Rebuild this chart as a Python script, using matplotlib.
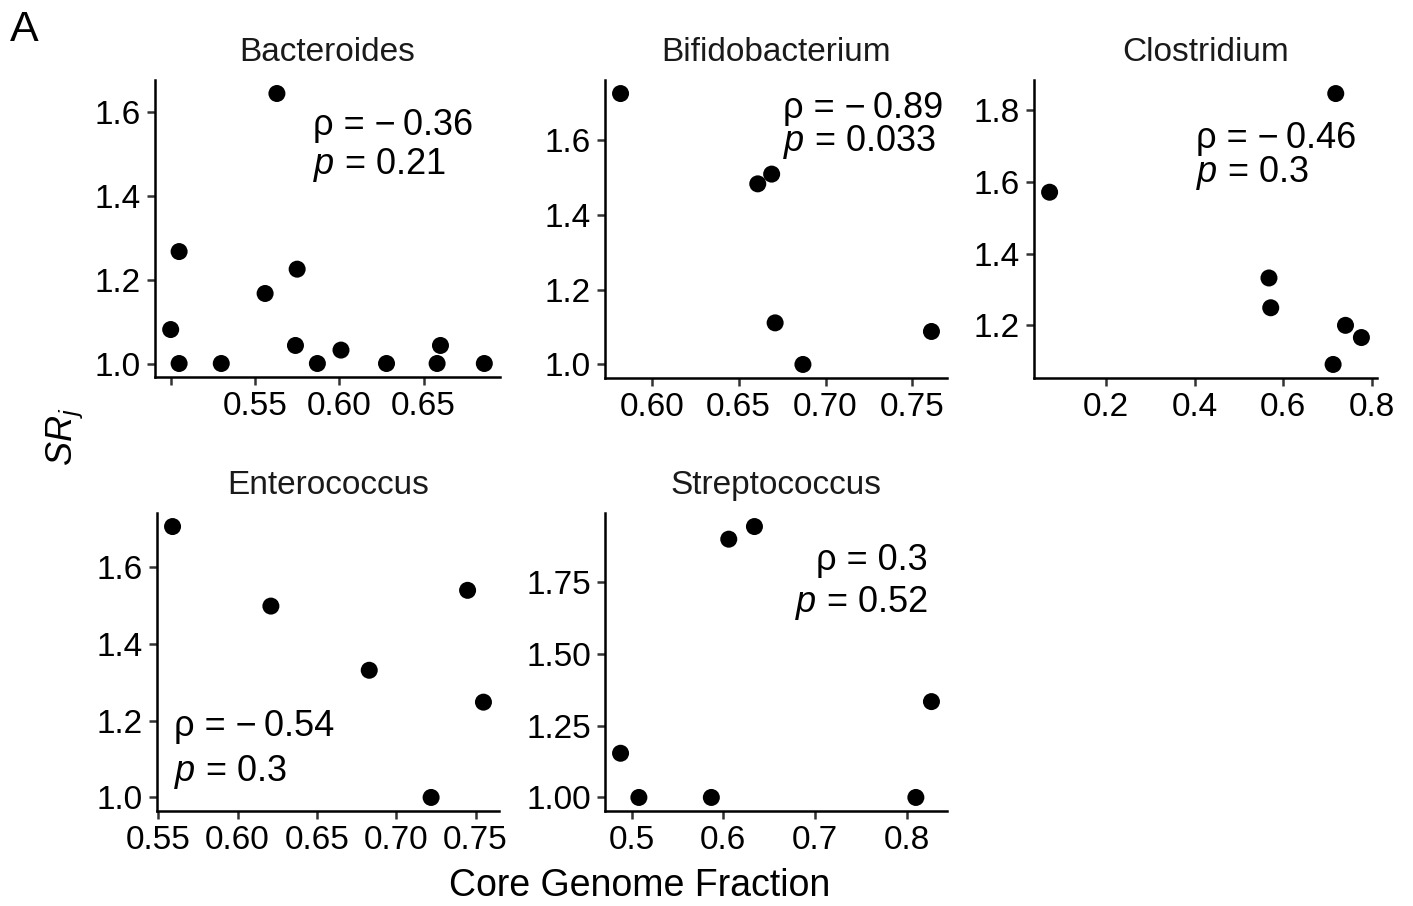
import matplotlib

matplotlib.use("Agg")
import matplotlib.pyplot as plt
import numpy as np

plt.rcParams["font.family"] = ["Liberation Sans", "DejaVu Sans"]
plt.rcParams["mathtext.fontset"] = "custom"
plt.rcParams["mathtext.rm"] = "Liberation Sans"
plt.rcParams["mathtext.it"] = "Liberation Sans:italic"

# Data
bacteroides_x = [0.500, 0.505, 0.505, 0.530, 0.556, 0.563, 0.575, 0.574, 0.587, 0.601, 0.628, 0.658, 0.660, 0.686]
bacteroides_y = [1.081, 1.267, 1.000, 1.000, 1.167, 1.644, 1.225, 1.043, 1.000, 1.032, 1.000, 1.000, 1.043, 1.000]

bifido_x = [0.582, 0.661, 0.669, 0.671, 0.687, 0.761]
bifido_y = [1.723, 1.482, 1.508, 1.111, 1.000, 1.088]

clostridium_x = [0.072, 0.568, 0.572, 0.719, 0.741, 0.777, 0.713]
clostridium_y = [1.571, 1.332, 1.249, 1.846, 1.200, 1.166, 1.091]

enterococcus_x = [0.559, 0.621, 0.683, 0.745, 0.755, 0.722]
enterococcus_y = [1.705, 1.498, 1.331, 1.539, 1.248, 1.000]

strepto_x = [0.488, 0.508, 0.587, 0.606, 0.634, 0.810, 0.827]
strepto_y = [1.154, 1.000, 1.000, 1.900, 1.944, 1.000, 1.334]

rho_labels = ["\u2212\u20090.36", "\u2212\u20090.89", "\u2212\u20090.46", "\u2212\u20090.54", "0.3"]
p_labels = ["0.21", "0.033", "0.3", "0.3", "0.52"]

W, H = 1413, 906

panels = [
    # title, x, y, rect px (left, top, right, bottom), xticks, xticklabels, yticks, yticklabels, annot (xfrac, y1, y2, ha)
    ("Bacteroides", bacteroides_x, bacteroides_y, (155, 80, 500, 377),
     [0.50, 0.55, 0.60, 0.65], ["", "0.55", "0.60", "0.65"],
     [1.0, 1.2, 1.4, 1.6], ["1.0", "1.2", "1.4", "1.6"], (0.458, 0.848, 0.714, "left")),
    ("Bifidobacterium", bifido_x, bifido_y, (605, 80, 947, 378),
     [0.60, 0.65, 0.70, 0.75], ["0.60", "0.65", "0.70", "0.75"],
     [1.0, 1.2, 1.4, 1.6], ["1.0", "1.2", "1.4", "1.6"], (0.520, 0.906, 0.792, "left")),
    ("Clostridium", clostridium_x, clostridium_y, (1034, 80, 1377, 378),
     [0.2, 0.4, 0.6, 0.8], ["0.2", "0.4", "0.6", "0.8"],
     [1.2, 1.4, 1.6, 1.8], ["1.2", "1.4", "1.6", "1.8"], (0.472, 0.804, 0.687, "left")),
    ("Enterococcus", enterococcus_x, enterococcus_y, (157, 513, 499, 811),
     [0.55, 0.60, 0.65, 0.70, 0.75], ["0.55", "0.60", "0.65", "0.70", "0.75"],
     [1.0, 1.2, 1.4, 1.6], ["1.0", "1.2", "1.4", "1.6"], (0.051, 0.283, 0.132, "left")),
    ("Streptococcus", strepto_x, strepto_y, (605, 513, 947, 811),
     [0.5, 0.6, 0.7, 0.8], ["0.5", "0.6", "0.7", "0.8"],
     [1.00, 1.25, 1.50, 1.75], ["1.00", "1.25", "1.50", "1.75"], (0.944, 0.842, 0.697, "right")),
]

fig = plt.figure(figsize=(W / 100, H / 100), dpi=100)

for i, (title, xs, ys, (l, t, r, b), xt, xtl, yt, ytl, ann) in enumerate(panels):
    ax = fig.add_axes([l / W, 1 - b / H, (r - l) / W, (b - t) / H])
    ax.scatter(xs, ys, s=150, color="black", edgecolors="none", zorder=3, clip_on=False)
    xr = max(xs) - min(xs)
    yr = max(ys) - min(ys)
    ax.set_xlim(min(xs) - 0.05 * xr, max(xs) + 0.05 * xr)
    ax.set_ylim(min(ys) - 0.05 * yr, max(ys) + 0.05 * yr)
    ax.set_xticks(xt)
    ax.set_xticklabels(xtl)
    ax.set_yticks(yt)
    ax.set_yticklabels(ytl)
    for side in ("top", "right"):
        ax.spines[side].set_visible(False)
    for side in ("left", "bottom"):
        ax.spines[side].set_linewidth(1.8)
        ax.spines[side].set_color("black")
    ax.tick_params(axis="both", length=6, width=1.8, color="#333333", labelsize=24, labelcolor="black", pad=4)
    ax.set_title(title, fontsize=24, color="#1a1a1a", pad=14)
    xf, y1, y2, ha = ann
    ax.text(xf, y1, "\u03c1 = " + rho_labels[i], transform=ax.transAxes,
            fontsize=26, ha=ha, va="center")
    ax.text(xf, y2, r"$p$ = " + p_labels[i], transform=ax.transAxes,
            fontsize=26, ha=ha, va="center")

fig.text(10 / W, 1 - 30 / H, "A", fontsize=31, ha="left", va="center")
fig.text(65 / W, 1 - 437 / H, r"$SR_j$", fontsize=26, rotation=90, ha="center", va="center")
fig.text(640 / W, 1 - 886 / H, "Core Genome Fraction", fontsize=27, ha="center", va="center")

fig.savefig("out.png", dpi=100)
plt.close(fig)
